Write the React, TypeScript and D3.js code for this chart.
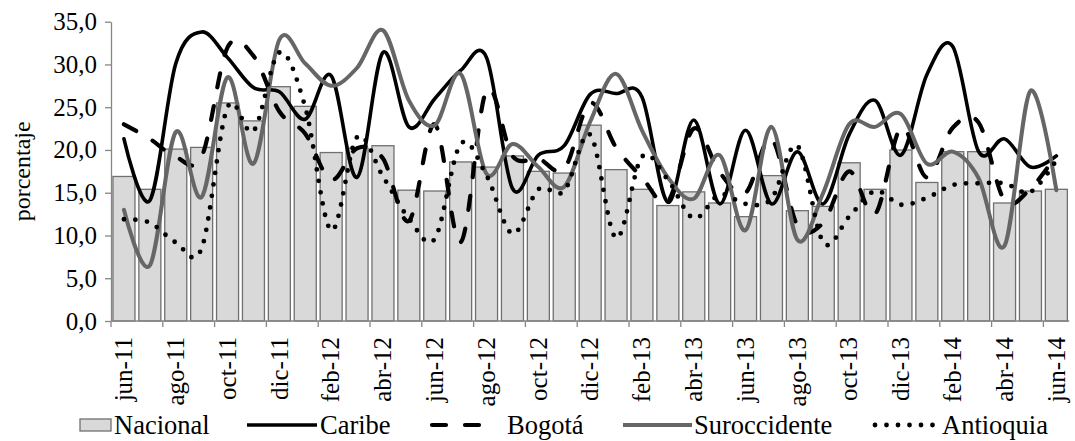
import React, { useRef, useEffect } from 'react'
import * as d3 from 'd3'

// meses jun-11 .. jun-14
const months = [
    'jun-11', 'jul-11', 'ago-11', 'sep-11', 'oct-11', 'nov-11', 'dic-11', 'ene-12', 'feb-12', 'mar-12',
    'abr-12', 'may-12', 'jun-12', 'jul-12', 'ago-12', 'sep-12', 'oct-12', 'nov-12', 'dic-12', 'ene-13',
    'feb-13', 'mar-13', 'abr-13', 'may-13', 'jun-13', 'jul-13', 'ago-13', 'sep-13', 'oct-13', 'nov-13',
    'dic-13', 'ene-14', 'feb-14', 'mar-14', 'abr-14', 'may-14', 'jun-14',
]

const nacional = [
    16.9, 15.4, 20.1, 20.3, 25.5, 23.4, 27.4, 25.1, 19.7, 20.2, 20.5, 15.3, 15.2, 18.6, 18.0, 19.3, 17.5, 17.3,
    22.9, 17.7, 15.4, 13.5, 15.1, 13.8, 12.2, 17.0, 12.9, 13.4, 18.5, 15.4, 20.0, 16.2, 19.8, 19.8, 13.8, 15.2, 15.4,
]
const caribe = [
    21.3, 14.1, 30.1, 33.8, 30.8, 27.3, 26.8, 23.6, 28.7, 16.8, 31.4, 22.7, 26.0, 29.3, 30.8, 15.5, 19.4, 20.5,
    26.5, 26.6, 26.2, 13.9, 23.5, 13.7, 22.3, 13.7, 19.8, 13.7, 21.8, 25.8, 19.4, 28.8, 32.1, 19.8, 21.3, 18.0, 19.3,
]
const bogota = [
    23.0, 21.3, 19.2, 19.2, 32.0, 31.0, 24.5, 21.9, 16.5, 20.2, 19.0, 11.7, 23.0, 9.2, 27.0, 19.3, 19.0, 17.8,
    25.5, 20.3, 16.8, 14.0, 22.5, 17.4, 15.0, 21.3, 11.2, 11.5, 17.5, 12.5, 22.6, 16.8, 22.6, 23.2, 14.1, 15.5, 19.4,
]
const suroccidente = [
    13.0, 6.5, 22.1, 14.5, 28.5, 18.4, 32.9, 30.1, 27.5, 29.6, 34.0, 25.8, 22.9, 28.9, 17.2, 20.7, 18.0, 15.7,
    23.3, 28.9, 22.3, 16.8, 14.3, 19.4, 10.6, 22.7, 9.5, 15.0, 23.0, 22.7, 24.2, 18.4, 19.8, 16.7, 8.8, 26.9, 15.3,
]
const antioquia = [
    11.9, 11.5, 9.2, 8.5, 25.0, 22.2, 31.4, 25.0, 10.6, 21.5, 16.9, 12.0, 9.6, 20.7, 17.0, 10.2, 15.4, 15.2,
    21.8, 9.7, 19.2, 16.5, 12.0, 14.8, 13.7, 14.3, 20.5, 9.2, 12.2, 15.2, 13.6, 14.4, 15.9, 16.1, 16.1, 15.1, 18.8,
]
const yTicks = [0, 5, 10, 15, 20, 25, 30, 35]

const series = [
    { name: 'Caribe', values: caribe, color: '#000', width: 3.6, dash: '' },
    { name: 'Bogotá', values: bogota, color: '#000', width: 4.2, dash: '14 19' },
    { name: 'Suroccidente', values: suroccidente, color: '#666', width: 4, dash: '' },
    { name: 'Antioquia', values: antioquia, color: '#000', width: 4.8, dash: '0 11.5' },
]

const FONT = "'Liberation Serif', 'DejaVu Serif', serif"

export default function App() {
    const svgRef = useRef<SVGSVGElement>(null)

    useEffect(() => {
        if (!svgRef.current) return
        const svg = d3.select(svgRef.current)
        svg.selectAll('*').remove()

        const fs = 25

        const x = d3
            .scaleBand<number>()
            .domain(d3.range(months.length))
            .range([111, 1069.3])
            .paddingInner(0.15)
            .paddingOuter(0.075)
        const y = d3.scaleLinear().domain([0, 35]).range([321, 21.7])
        const cx = (i: number) => x(i)! + x.bandwidth() / 2
        const gapHalf = (x.step() - x.bandwidth()) / 2

        // barras Nacional
        svg.append('g')
            .selectAll('rect')
            .data(nacional)
            .enter()
            .append('rect')
            .attr('x', (_, i) => x(i)!)
            .attr('y', (d) => y(d))
            .attr('width', x.bandwidth())
            .attr('height', (d) => y(0) - y(d))
            .attr('fill', '#d9d9d9')
            .attr('stroke', '#707070')
            .attr('stroke-width', 1.3)

        // eje Y
        const yAxis = d3
            .axisLeft(y)
            .tickValues(yTicks)
            .tickSize(6)
            .tickSizeOuter(0)
            .tickPadding(8)
            .tickFormat((d) => d3.format('.1f')(d as number).replace('.', ','))
        const gy = svg.append('g').attr('transform', 'translate(111,0)').call(yAxis)
        gy.attr('font-family', null).attr('font-size', null)
        gy.selectAll('path, line').attr('stroke', '#868686').attr('stroke-width', 1.3)
        gy.selectAll('text').style('font-family', FONT).style('font-size', fs + 'px').attr('fill', '#000')

        // eje X
        const gx = svg.append('g')
        gx.append('line')
            .attr('x1', 111)
            .attr('x2', 1069.3)
            .attr('y1', y(0))
            .attr('y2', y(0))
            .attr('stroke', '#868686')
            .attr('stroke-width', 1.3)
        const labelIdx = d3.range(0, months.length, 2)
        gx.selectAll('.tick')
            .data(labelIdx)
            .enter()
            .append('line')
            .attr('x1', (i) => x(i)! - gapHalf)
            .attr('x2', (i) => x(i)! - gapHalf)
            .attr('y1', y(0))
            .attr('y2', y(0) + 6)
            .attr('stroke', '#868686')
            .attr('stroke-width', 1.3)
        gx.selectAll('.lbl')
            .data(labelIdx)
            .enter()
            .append('text')
            .attr('transform', (i) => `translate(${cx(i)},337) rotate(-90)`)
            .attr('text-anchor', 'end')
            .attr('dy', '0.33em')
            .style('font-family', FONT)
            .style('font-size', fs + 'px')
            .text((i) => months[i])

        // titulo eje Y
        svg.append('text')
            .attr('transform', `translate(22,${(y(0) + y(35)) / 2}) rotate(-90)`)
            .attr('text-anchor', 'middle')
            .attr('dy', '0.33em')
            .style('font-family', FONT)
            .style('font-size', '24px')
            .text('porcentaje')

        // lineas suavizadas
        const line = d3
            .line<number>()
            .x((_, i) => cx(i))
            .y((d) => y(d))
            .curve(d3.curveCardinal.tension(0))
        series.forEach((s) => {
            svg.append('path')
                .datum(s.values)
                .attr('d', line)
                .attr('fill', 'none')
                .attr('stroke', s.color)
                .attr('stroke-width', s.width)
                .attr('stroke-linecap', 'round')
                .attr('stroke-linejoin', 'round')
                .attr('stroke-dasharray', s.dash || null)
        })

        // leyenda
        const ly = 425
        const lg = svg.append('g').style('font-family', FONT).style('font-size', '26.5px')
        lg.append('rect')
            .attr('x', 80)
            .attr('y', ly - 6)
            .attr('width', 31)
            .attr('height', 12)
            .attr('fill', '#d9d9d9')
            .attr('stroke', '#707070')
            .attr('stroke-width', 1.3)
        lg.append('text').attr('x', 114).attr('y', ly).attr('dy', '0.33em').text('Nacional')

        const legendLines = [
            { s: series[0], x1: 247, x2: 317, tx: 320 },
            { s: series[1], x1: 432, x2: 483, tx: 507 },
            { s: series[2], x1: 623, x2: 692, tx: 694 },
            { s: series[3], x1: 875, x2: 938, tx: 942 },
        ]
        legendLines.forEach((l) => {
            lg.append('line')
                .attr('x1', l.x1)
                .attr('x2', l.x2)
                .attr('y1', ly)
                .attr('y2', ly)
                .attr('stroke', l.s.color)
                .attr('stroke-width', l.s.width)
                .attr('stroke-linecap', l.s.dash ? 'round' : 'butt')
                .attr('stroke-dasharray', l.s.dash || null)
            lg.append('text').attr('x', l.tx).attr('y', ly).attr('dy', '0.33em').text(l.s.name)
        })
    }, [])

    return (
        <svg
            ref={svgRef}
            width={1075}
            height={441}
            style={{ position: 'absolute', left: 0, top: 0, background: '#fff' }}
        />
    )
}
